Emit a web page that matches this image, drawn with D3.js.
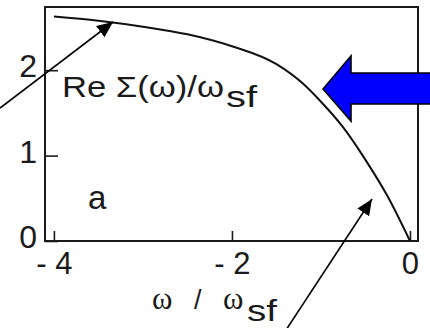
<!DOCTYPE html>
<html>
<head>
<meta charset="utf-8">
<script src="https://cdn.jsdelivr.net/npm/d3@7"></script>
<style>
  html, body { margin: 0; padding: 0; background: #fff; }
  svg { display: block; }
  text { font-family: "Liberation Sans", Arial, sans-serif; fill: #1a1a1a; }
</style>
</head>
<body>
<svg id="chart" width="430" height="328"></svg>
<script>
// Real part of the self-energy, in units of the spin-fluctuation frequency
const omega    = [-4.0, -3.5, -3.0, -2.5, -2.0, -1.5, -1.2, -1.0, -0.75, -0.5, -0.25, 0];
const reSigma  = [2.63, 2.58, 2.51, 2.42, 2.28, 2.07, 1.84, 1.63, 1.33, 0.95, 0.52, 0];

const xTicks = [-4, -2, 0];
const xTickLabels = ["- 4", "- 2", "0"];
const yTicks = [0, 1, 2];
const yTickLabels = ["0", "1", "2"];

const svg = d3.select("#chart");

const plotLeft = 45, plotRight = 418, plotTop = 7, plotBottom = 241;
const x = d3.scaleLinear().domain([-4.1, 0.09]).range([plotLeft, plotRight]);
const y = d3.scaleLinear().domain([0, 2.74]).range([plotBottom, plotTop]);

// frame
svg.append("rect")
  .attr("x", plotLeft).attr("y", plotTop)
  .attr("width", plotRight - plotLeft).attr("height", plotBottom - plotTop)
  .attr("fill", "none").attr("stroke", "#1a1a1a").attr("stroke-width", 2);

// axes with inward ticks
const xAxis = svg.append("g")
  .attr("transform", `translate(0,${plotBottom})`)
  .call(d3.axisBottom(x).tickValues(xTicks)
    .tickFormat((d, i) => xTickLabels[i])
    .tickSize(-10).tickPadding(11));
xAxis.select(".domain").remove();
xAxis.selectAll("line").attr("stroke", "#1a1a1a").attr("stroke-width", 1.6);
xAxis.selectAll("text").attr("font-size", 31).attr("fill", "#1a1a1a")
  .style("font-family", "'Liberation Sans', Arial, sans-serif");

const yAxis = svg.append("g")
  .attr("transform", `translate(${plotLeft},0)`)
  .call(d3.axisLeft(y).tickValues(yTicks)
    .tickFormat((d, i) => yTickLabels[i])
    .tickSize(-13).tickPadding(8));
yAxis.select(".domain").remove();
yAxis.selectAll("line").attr("stroke", "#1a1a1a").attr("stroke-width", 1.6);
yAxis.selectAll("text").attr("font-size", 32).attr("fill", "#1a1a1a").attr("dy", "0.2em")
  .style("font-family", "'Liberation Sans', Arial, sans-serif");

// curve
const line = d3.line()
  .x((d, i) => x(omega[i]))
  .y(d => y(d))
  .curve(d3.curveMonotoneX);
svg.append("path")
  .datum(reSigma)
  .attr("d", line)
  .attr("fill", "none")
  .attr("stroke", "#111")
  .attr("stroke-width", 2);

// curve label
svg.append("text")
  .attr("x", 62).attr("y", 97)
  .attr("font-size", 30)
  .attr("textLength", 162).attr("lengthAdjust", "spacingAndGlyphs")
  .text("Re \u03A3(\u03C9)/\u03C9");
svg.append("text")
  .attr("x", 226).attr("y", 107)
  .attr("font-size", 30)
  .attr("textLength", 31).attr("lengthAdjust", "spacingAndGlyphs")
  .text("sf");

// panel letter
svg.append("text")
  .attr("x", 88).attr("y", 209)
  .attr("font-size", 33)
  .text("a");

// x-axis title
const serif = "'Liberation Serif', 'Times New Roman', serif";
svg.append("text").attr("x", 152).attr("y", 309)
  .attr("font-size", 31).style("font-family", serif).text("\u03C9");
svg.append("text").attr("x", 194).attr("y", 309)
  .attr("font-size", 27).text("/");
svg.append("text").attr("x", 223).attr("y", 309)
  .attr("font-size", 31).style("font-family", serif).text("\u03C9");
svg.append("text").attr("x", 247).attr("y", 321)
  .attr("font-size", 30)
  .attr("textLength", 30).attr("lengthAdjust", "spacingAndGlyphs")
  .text("sf");

// annotation arrows
const defs = svg.append("defs");
defs.append("marker")
  .attr("id", "head")
  .attr("viewBox", "0 0 16 14")
  .attr("refX", 16).attr("refY", 7)
  .attr("markerWidth", 16).attr("markerHeight", 14)
  .attr("markerUnits", "userSpaceOnUse")
  .attr("orient", "auto")
  .append("path").attr("d", "M0,0 L16,7 L0,14 Z").attr("fill", "#000");

svg.append("line")
  .attr("x1", 0).attr("y1", 108).attr("x2", 113).attr("y2", 22)
  .attr("stroke", "#000").attr("stroke-width", 1.6)
  .attr("marker-end", "url(#head)");
svg.append("line")
  .attr("x1", 286).attr("y1", 330).attr("x2", 372).attr("y2", 199)
  .attr("stroke", "#000").attr("stroke-width", 1.6)
  .attr("marker-end", "url(#head)");

// blue block arrow
svg.append("path")
  .attr("d", "M323,89 L351,56 L351,73 L432,73 L432,104 L351,104 L351,121 Z")
  .attr("fill", "#0000ff")
  .attr("stroke", "#000")
  .attr("stroke-width", 1.6)
  .attr("stroke-linejoin", "miter");
</script>
</body>
</html>
